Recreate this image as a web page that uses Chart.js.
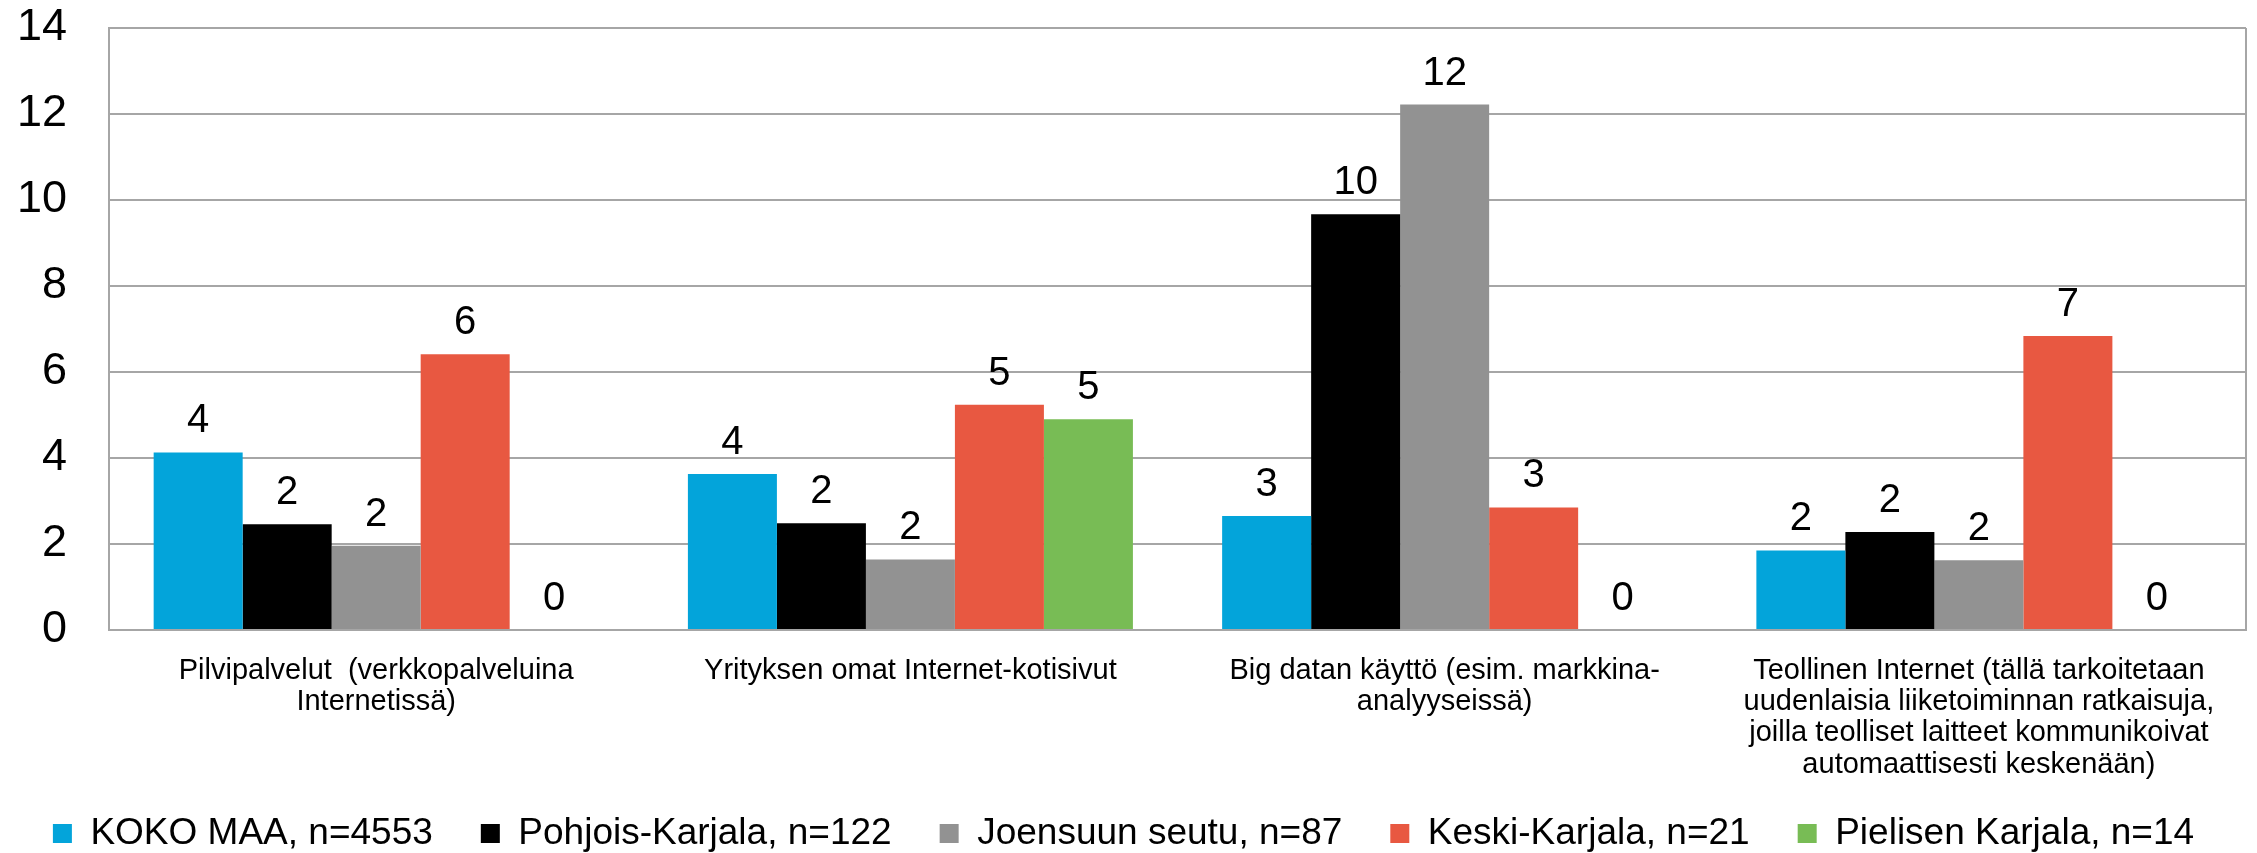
<!DOCTYPE html>
<html>
<head>
<meta charset="utf-8">
<script src="https://cdn.jsdelivr.net/npm/chart.js@4/dist/chart.umd.min.js"></script>
<style>
  html, body { margin: 0; padding: 0; background: #fff; }
  #wrap { width: 2257px; height: 853px; }
</style>
</head>
<body>
<div id="wrap"><canvas id="chart" width="2257" height="853"></canvas></div>
<script>
// categories (multi-line as in the original)
const categories = [
  ['Pilvipalvelut  (verkkopalveluina', 'Internetissä)'],
  ['Yrityksen omat Internet-kotisivut'],
  ['Big datan käyttö (esim. markkina-', 'analyyseissä)'],
  ['Teollinen Internet (tällä tarkoitetaan', 'uudenlaisia liiketoiminnan ratkaisuja,', 'joilla teolliset laitteet kommunikoivat', 'automaattisesti keskenään)']
];

const seriesNames = [
  'KOKO MAA, n=4553',
  'Pohjois-Karjala, n=122',
  'Joensuun seutu, n=87',
  'Keski-Karjala, n=21',
  'Pielisen Karjala, n=14'
];

// values (percent)
const kokoMaa = [4.13, 3.63, 2.65, 1.85];
const pohjoisKarjala = [2.46, 2.48, 9.67, 2.28];
const joensuunSeutu = [1.96, 1.64, 12.22, 1.62];
const keskiKarjala = [6.41, 5.24, 2.85, 6.84];
const pielisenKarjala = [0, 4.90, 0, 0];

const colors = ['#03A4DA', '#000000', '#929292', '#E85841', '#78BC55'];
const FONT = 'Arial, "Liberation Sans", sans-serif';

// value labels above bars
const valueLabels = {
  id: 'valueLabels',
  afterDatasetsDraw(chart) {
    const ctx = chart.ctx;
    ctx.save();
    ctx.font = '40px ' + FONT;
    ctx.fillStyle = '#000';
    ctx.textAlign = 'center';
    ctx.textBaseline = 'alphabetic';
    chart.data.datasets.forEach((ds, di) => {
      const meta = chart.getDatasetMeta(di);
      meta.data.forEach((bar, i) => {
        ctx.fillText(String(Math.round(ds.data[i])), bar.x, bar.y - 20);
      });
    });
    ctx.restore();
  }
};

// right border of plot area
const plotBorder = {
  id: 'plotBorder',
  beforeDatasetsDraw(chart) {
    const {ctx, chartArea} = chart;
    ctx.save();
    ctx.strokeStyle = '#A6A6A6';
    ctx.lineWidth = 2;
    ctx.beginPath();
    ctx.moveTo(chartArea.right, chartArea.top);
    ctx.lineTo(chartArea.right, chartArea.bottom);
    ctx.stroke();
    ctx.restore();
  }
};

// legend sits a bit lower, x labels may run into the legend box
const layoutTweaks = {
  id: 'layoutTweaks',
  beforeInit(chart) {
    const fit = chart.legend.fit;
    chart.legend.fit = function () {
      fit.bind(this)();
      this.height -= 9;
    };
  },
  afterLayout(chart) {
    chart.scales.x.bottom = chart.height;
    chart.legend.left += 13;
    chart.legend.right += 13;
  }
};

const datasets = [kokoMaa, pohjoisKarjala, joensuunSeutu, keskiKarjala, pielisenKarjala].map((d, i) => ({
  label: seriesNames[i],
  data: d,
  backgroundColor: colors[i],
  borderWidth: 0,
  categoryPercentage: 0.833,
  barPercentage: 1.0
}));

new Chart(document.getElementById('chart').getContext('2d'), {
  type: 'bar',
  data: { labels: categories, datasets },
  plugins: [valueLabels, plotBorder, layoutTweaks],
  options: {
    responsive: false,
    devicePixelRatio: 1,
    animation: false,
    layout: { padding: { left: -25, right: 11, top: 28, bottom: 0 } },
    plugins: {
      tooltip: { enabled: false },
      legend: {
        position: 'bottom',
        labels: {
          color: '#000',
          font: { family: FONT, size: 37 },
          boxWidth: 19,
          boxHeight: 19,
          padding: 48
        }
      }
    },
    scales: {
      x: {
        grid: { display: false },
        border: { display: true, color: '#A6A6A6', width: 2 },
        ticks: {
          color: '#000',
          font: { family: FONT, size: 29, lineHeight: 1.08 },
          padding: 17,
          maxRotation: 0,
          autoSkip: false
        },
        afterFit(scale) {
          scale.height = 137;
          scale.paddingLeft = 0;
          scale.paddingRight = 0;
        }
      },
      y: {
        min: 0,
        max: 14,
        grid: { color: '#A6A6A6', lineWidth: 2, drawTicks: false },
        border: { display: true, color: '#A6A6A6', width: 2 },
        ticks: {
          stepSize: 2,
          color: '#000',
          font: { family: FONT, size: 45, lineHeight: 1 },
          padding: 42
        },
        afterFit(scale) {
          scale.paddingTop = 0;
          scale.paddingBottom = 0;
        }
      }
    }
  }
});
</script>
</body>
</html>
